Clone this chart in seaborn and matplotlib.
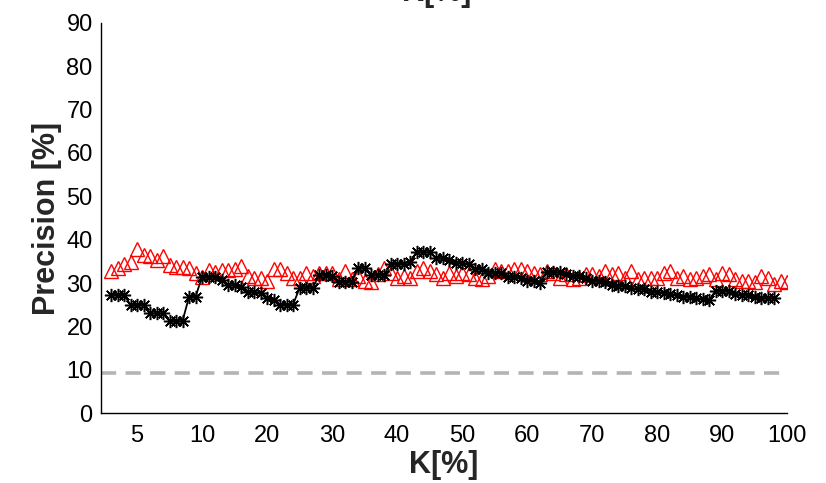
import numpy as np
import pandas as pd
import matplotlib
matplotlib.use("Agg")
import matplotlib.pyplot as plt
import seaborn as sns

# ---------------- data ----------------
black_vals = [27.2, 27.2, 27.2, 25.0, 25.0, 25.0, 23.0, 23.0, 23.0, 21.2, 21.2, 21.2,
              26.8, 26.8, 31.4, 31.4, 31.4, 30.7, 29.5, 29.5, 29.1, 27.9, 27.9, 27.7,
              26.5, 26.1, 25.0, 25.0, 25.0, 28.8, 28.8, 28.8, 31.8, 31.8, 31.6, 30.2,
              30.2, 30.2, 33.5, 33.5, 31.8, 31.8, 31.8, 34.4, 34.4, 34.4, 34.9, 37.1,
              37.1, 37.1, 35.7, 35.7, 35.2, 34.6, 34.6, 34.4, 33.2, 33.2, 32.3, 32.3,
              32.3, 31.4, 31.4, 31.2, 30.5, 30.5, 30.0, 32.5, 32.5, 32.5, 32.0, 31.6,
              31.6, 31.2, 30.5, 30.5, 30.3, 29.5, 29.3, 29.3, 28.8, 28.6, 28.6, 28.0,
              28.0, 27.7, 27.5, 27.2, 26.8, 26.8, 26.5, 26.2, 26.0, 28.2, 28.2, 28.2,
              27.5, 27.2, 27.2, 26.8, 26.5, 26.5, 26.5]
red_vals = [32.8, 33.4, 34.5, 34.9, 37.8, 36.5, 36.2, 35.3, 36.3, 34.2, 33.8, 33.8,
            33.4, 32.2, 31.5, 33.0, 32.5, 33.0, 33.1, 33.2, 33.9, 31.6, 31.2, 31.2,
            30.5, 33.2, 33.2, 32.4, 31.2, 31.2, 32.4, 31.6, 32.4, 32.4, 32.4, 30.9,
            32.8, 30.9, 31.6, 30.5, 30.2, 32.0, 33.5, 32.4, 31.2, 31.6, 31.2, 32.8,
            33.5, 32.8, 32.0, 31.2, 32.4, 31.6, 32.4, 32.0, 31.2, 30.9, 31.6, 33.2,
            32.8, 32.8, 33.2, 33.2, 32.8, 32.4, 32.0, 32.8, 32.4, 31.2, 32.0, 30.9,
            31.2, 32.0, 32.0, 31.6, 32.8, 32.0, 32.4, 31.2, 32.8, 30.9, 31.2, 31.2,
            31.2, 32.4, 32.8, 31.2, 31.6, 30.9, 31.2, 31.6, 32.0, 30.9, 32.4, 32.0,
            30.9, 30.5, 30.5, 30.2, 31.6, 31.2, 29.8, 30.5, 30.3]
black_x = list(range(1, len(black_vals) + 1))
red_x = list(range(1, len(red_vals) + 1))
baseline_value = 9.2
tick_pos = [5, 15, 25, 35, 45, 55, 65, 75, 85, 95, 105]
tick_labels = ["5", "10", "20", "30", "40", "50", "60", "70", "80", "90", "100"]
y_ticks = list(range(0, 91, 10))

# ---------------- style ----------------
sns.set_style("white")
plt.rcParams["font.family"] = ["Liberation Sans", "DejaVu Sans"]

fig = plt.figure(figsize=(8.26, 4.83), dpi=100)
ax = fig.add_axes([101 / 826, 1 - 413 / 483, (787 - 101) / 826, (413 - 23) / 483])

df_b = pd.DataFrame({"x": black_x, "y": black_vals})
df_r = pd.DataFrame({"x": red_x, "y": red_vals})

sns.lineplot(data=df_r, x="x", y="y", ax=ax, color="red", linestyle="none",
             marker="^", markersize=9.5, markerfacecolor="none",
             markeredgecolor="red", markeredgewidth=1.0)
sns.lineplot(data=df_b, x="x", y="y", ax=ax, color="black", linewidth=1.3,
             marker=(8, 2, 0), markersize=9.5, markeredgecolor="black",
             markeredgewidth=1.1)
for ln in ax.lines[:1]:
    ln.set_linestyle("none")
    ln.set_markerfacecolor("none")
    ln.set_markeredgecolor("red")

ax.axhline(baseline_value, color="#b4b4b4", linewidth=2.6, dashes=(4.2, 2.6), zorder=0)

ax.set_xlim(-0.54, 105)
ax.set_ylim(0, 90)
ax.set_xticks(tick_pos)
ax.set_xticklabels(tick_labels)
ax.set_yticks(y_ticks)
for s in ["top", "right"]:
    ax.spines[s].set_visible(False)
for s in ["left", "bottom"]:
    ax.spines[s].set_color("black")
    ax.spines[s].set_linewidth(1.0)
ax.tick_params(axis="both", direction="in", length=5, width=1, colors="black",
               labelsize=17)
ax.tick_params(axis="x", pad=9)
ax.tick_params(axis="y", pad=6)
ax.set_xlabel("K[%]", fontsize=22, fontweight="bold", labelpad=2)
ax.set_ylabel("Precision [%]", fontsize=22, fontweight="bold", labelpad=3)
fig.text(0.529, 1 - 1.0 / 483, "K[%]", fontsize=22, fontweight="bold",
         ha="center", va="baseline")

fig.savefig("out.png", dpi=100)
